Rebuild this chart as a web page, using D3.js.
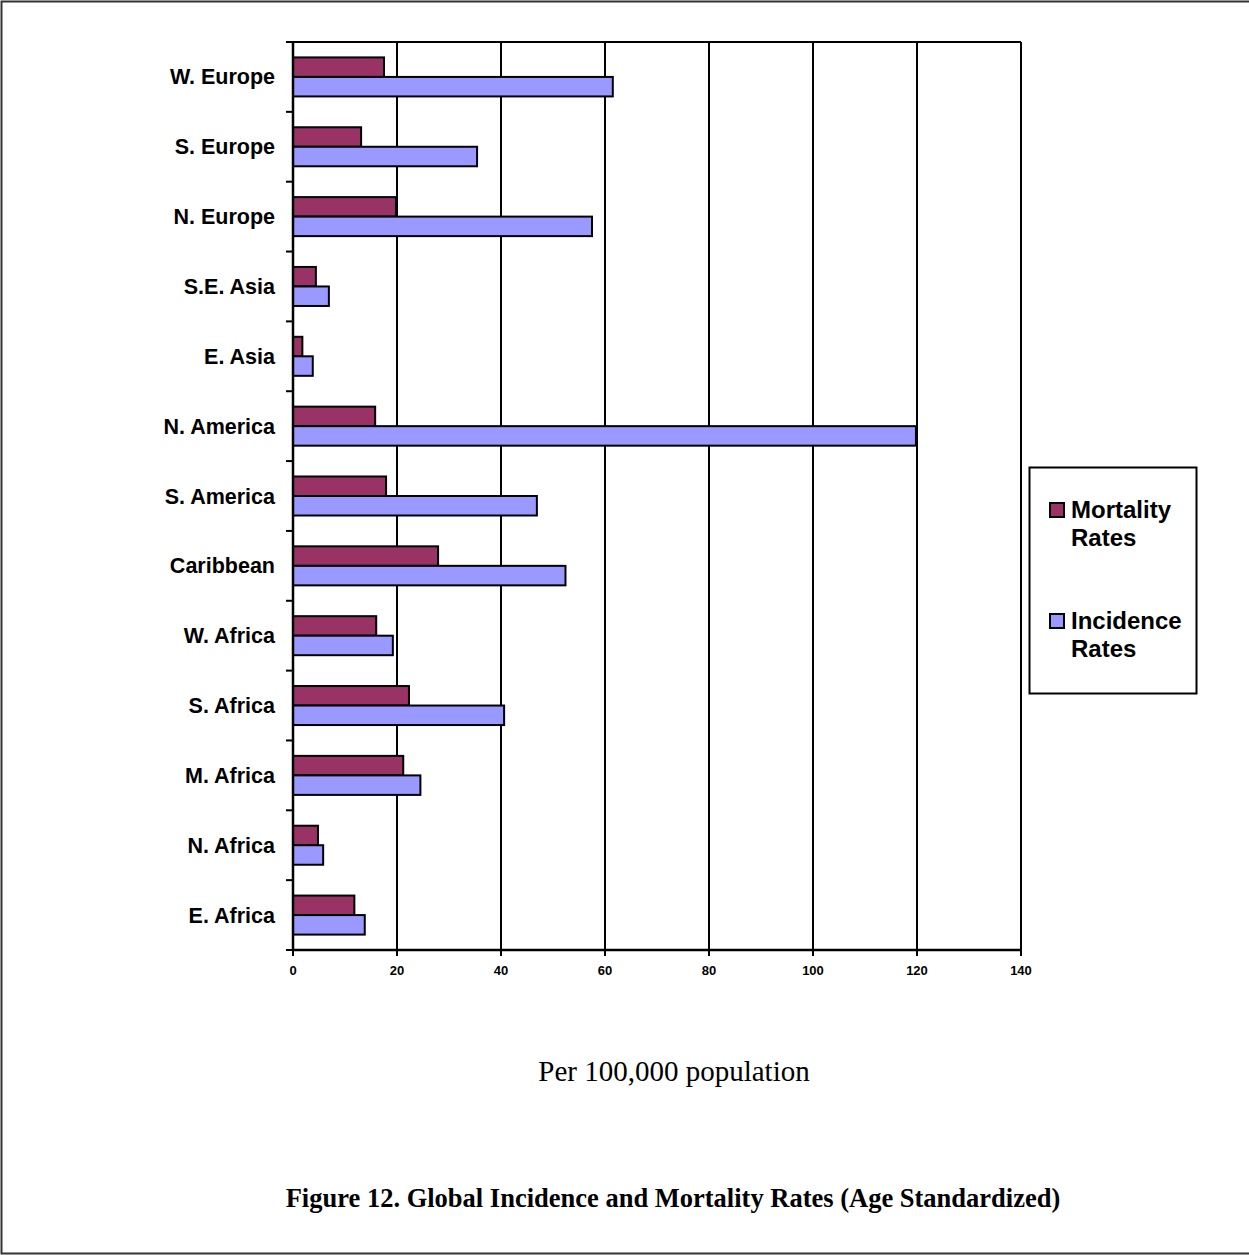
<!DOCTYPE html>
<html>
<head>
  <meta charset="utf-8">
  <title>Global Incidence and Mortality Rates</title>
  <script src="https://d3js.org/d3.v7.min.js"></script>
  <style>
    body { margin: 0; background: #fff; }
    svg { display: block; }
  </style>
</head>
<body>
  <svg width="1249" height="1255"></svg>
  <script>
    // data, top to bottom
    var regions = ["W. Europe", "S. Europe", "N. Europe", "S.E. Asia", "E. Asia", "N. America",
      "S. America", "Caribbean", "W. Africa", "S. Africa", "M. Africa", "N. Africa", "E. Africa"];
    var mortality = [17.5, 13.1, 19.8, 4.4, 1.8, 15.8, 17.9, 27.9, 16.0, 22.3, 21.2, 4.8, 11.8];
    var incidence = [61.5, 35.4, 57.5, 6.9, 3.8, 119.8, 46.9, 52.4, 19.2, 40.6, 24.5, 5.8, 13.8];
    var seriesNames = ["Mortality Rates", "Incidence Rates"];
    var seriesColors = ["#993366", "#9999FF"];
    var xTicks = [0, 20, 40, 60, 80, 100, 120, 140];

    var svg = d3.select("svg");
    var marge = { top: 42, left: 293, right: 1021, bottom: 950 };
    var sans = "'Liberation Sans', Arial, sans-serif";
    var serif = "'Liberation Serif', 'Times New Roman', serif";

    // outer frame
    svg.append("path")
      .attr("d", "M1249,1.5H1.5V1253.5H1249")
      .attr("fill", "none").attr("stroke", "#333").attr("stroke-width", 2);

    var x = d3.scaleLinear().domain([0, 140]).range([marge.left, marge.right]);
    var y = d3.scaleBand().domain(regions).range([marge.top, marge.bottom]);
    var ys = d3.scaleBand().domain(seriesNames).range([0, y.bandwidth()]).paddingOuter(0.79);

    var g = svg.append("g");

    // grid lines
    g.selectAll("line.grid")
      .data(xTicks.slice(1))
      .enter().append("line")
      .attr("x1", function (d) { return x(d); })
      .attr("x2", function (d) { return x(d); })
      .attr("y1", marge.top).attr("y2", marge.bottom)
      .attr("stroke", "#000").attr("stroke-width", 2);

    g.append("line")
      .attr("x1", marge.left).attr("x2", marge.right)
      .attr("y1", marge.top).attr("y2", marge.top)
      .attr("stroke", "#000").attr("stroke-width", 2);

    // bars
    var rows = regions.map(function (r, i) {
      return { name: r, values: [mortality[i], incidence[i]] };
    });
    var gs = g.selectAll("g.row")
      .data(rows)
      .enter().append("g")
      .attr("transform", function (d) { return "translate(0," + y(d.name) + ")"; });

    gs.selectAll("rect")
      .data(function (d) { return d.values.map(function (v, j) { return { s: seriesNames[j], v: v, c: seriesColors[j] }; }); })
      .enter().append("rect")
      .attr("x", x(0))
      .attr("y", function (d) { return ys(d.s); })
      .attr("width", function (d) { return x(d.v) - x(0); })
      .attr("height", ys.bandwidth())
      .attr("fill", function (d) { return d.c; })
      .attr("stroke", "#000").attr("stroke-width", 2);

    // y axis
    var yAxisTicks = d3.range(regions.length + 1).map(function (i) { return marge.top + i * y.step(); });
    g.append("line")
      .attr("x1", marge.left).attr("x2", marge.left)
      .attr("y1", marge.top).attr("y2", marge.bottom + 1)
      .attr("stroke", "#000").attr("stroke-width", 2.5);
    g.selectAll("line.ytick")
      .data(yAxisTicks)
      .enter().append("line")
      .attr("x1", marge.left - 7).attr("x2", marge.left)
      .attr("y1", function (d) { return d; }).attr("y2", function (d) { return d; })
      .attr("stroke", "#000").attr("stroke-width", 2);
    g.selectAll("text.ylab")
      .data(regions)
      .enter().append("text")
      .attr("x", 275)
      .attr("y", function (d) { return y(d) + y.bandwidth() / 2 + 7.5; })
      .attr("text-anchor", "end")
      .attr("font-family", sans)
      .attr("font-weight", "bold")
      .attr("font-size", 21.5)
      .text(function (d) { return d; });

    // x axis
    g.append("line")
      .attr("x1", marge.left).attr("x2", marge.right)
      .attr("y1", marge.bottom).attr("y2", marge.bottom)
      .attr("stroke", "#000").attr("stroke-width", 2.5);
    g.selectAll("line.xtick")
      .data(xTicks)
      .enter().append("line")
      .attr("x1", function (d) { return x(d); }).attr("x2", function (d) { return x(d); })
      .attr("y1", marge.bottom).attr("y2", marge.bottom + 6)
      .attr("stroke", "#000").attr("stroke-width", 2);
    g.selectAll("text.xlab")
      .data(xTicks)
      .enter().append("text")
      .attr("x", function (d) { return x(d); })
      .attr("y", 975)
      .attr("text-anchor", "middle")
      .attr("font-family", sans)
      .attr("font-weight", "bold")
      .attr("font-size", 13)
      .text(function (d) { return d; });

    // legend
    var lg = svg.append("g");
    lg.append("rect")
      .attr("x", 1029.5).attr("y", 467.5).attr("width", 167).attr("height", 226)
      .attr("fill", "#fff").attr("stroke", "#000").attr("stroke-width", 2);
    var legY = [503, 614];
    seriesNames.forEach(function (s, i) {
      lg.append("rect")
        .attr("x", 1050).attr("y", legY[i]).attr("width", 14).attr("height", 14)
        .attr("fill", seriesColors[i]).attr("stroke", "#000").attr("stroke-width", 2);
      var words = s.split(" ");
      words.forEach(function (w, k) {
        lg.append("text")
          .attr("x", 1071).attr("y", legY[i] + 15 + k * 28)
          .attr("font-family", sans)
          .attr("font-weight", "bold")
          .attr("font-size", 24)
          .text(w);
      });
    });

    // axis title and caption
    svg.append("text")
      .attr("x", 674).attr("y", 1081)
      .attr("text-anchor", "middle")
      .attr("font-family", serif)
      .attr("font-size", 29)
      .text("Per 100,000 population");
    svg.append("text")
      .attr("x", 673).attr("y", 1207)
      .attr("text-anchor", "middle")
      .attr("font-family", serif)
      .attr("font-weight", "bold")
      .attr("font-size", 26.5)
      .text("Figure 12. Global Incidence and Mortality Rates (Age Standardized)");
  </script>
</body>
</html>
